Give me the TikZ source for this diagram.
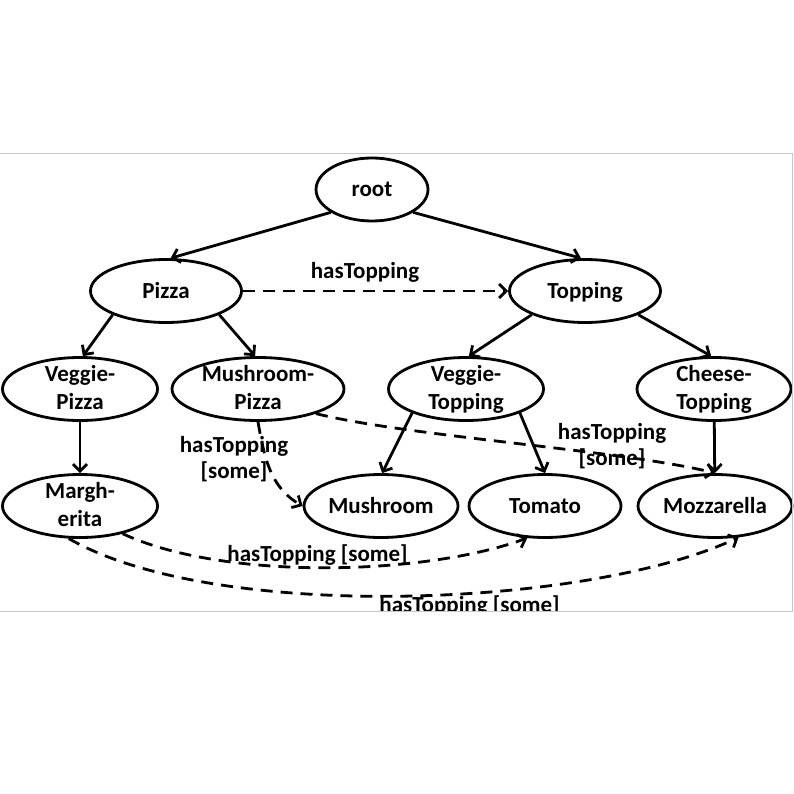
\documentclass[tikz,border=0pt]{standalone}
\usepackage{fontspec}
\setmainfont{Carlito}
\usetikzlibrary{shapes.geometric, arrows.meta}

\begin{document}
\begin{tikzpicture}[x=1pt, y=1pt, line width=2.8pt,
  >={Straight Barb[length=7pt, width=14pt]},
  cls/.style={shape=ellipse, draw, inner xsep=0pt, inner ysep=-4pt, minimum height=63pt, text height=15pt, text depth=0pt, align=center, font=\fontsize{23}{28}\selectfont\bfseries},
  cls2/.style={cls, text height=41pt},
  rel/.style={->, dash pattern=on 12pt off 8pt},
  lbl/.style={inner sep=0pt, align=center, font=\fontsize{23}{26}\selectfont\bfseries}]
\useasboundingbox (0,0) rectangle (794,-794);
\begin{scope}
\clip (-10,-140) rectangle (800,-611);
\node at (372, -189.5) [cls, minimum width=112pt] (root) {root};
\node at (166, -291) [cls, minimum width=151pt] (pizza) {Pizza};
\node at (585, -291) [cls, minimum width=151pt] (topping) {Topping};
\node at (80, -389) [cls2, minimum width=155pt] (vpizza) {Veggie-\\Pizza};
\node at (258, -389) [cls2, minimum width=172pt] (mpizza) {Mushroom-\\Pizza};
\node at (466, -389) [cls2, minimum width=155pt] (vtop) {Veggie-\\Topping};
\node at (714, -389) [cls2, minimum width=154pt] (ctop) {Cheese-\\Topping};
\node at (80, -506) [cls2, minimum width=155pt] (margh) {Margh-\\erita};
\node at (381, -506) [cls, minimum width=154pt] (mushroom) {Mushroom};
\node at (545, -506) [cls, minimum width=152pt] (tomato) {Tomato};
\node at (715, -506) [cls, minimum width=154pt] (mozz) {Mozzarella};
\draw [->] (root.-151) to (pizza.82);
\draw [->] (root.-29) to (topping.97);
\draw [->] (pizza.-156) to (vpizza.85);
\draw [->] (pizza.-24) to (mpizza.95);
\draw [->] (topping.-156) to (vtop.85);
\draw [->] (topping.-24) to (ctop.95);
\draw [->] (vpizza) to (margh);
\draw [->] (ctop) to (mozz);
\draw [->] (vtop.-156) to (mushroom.88);
\draw [->] (vtop.-24) to (tomato.north);
\draw [rel] (pizza) to (topping);
\draw [rel] (mpizza.south) to [out=-80, in=150] (mushroom.west);
\draw [rel] (mpizza.-23) to [out=-14, in=166, looseness=0.6] (mozz.north);
\draw [rel] (margh.-33) to [out=-25, in=-160, looseness=0.7] (tomato.-119);
\draw [rel] (margh.-109) to [out=-30, in=-155, looseness=0.64] (mozz.-53);
\node at (365, -278) [lbl, anchor=base] (has1) {hasTopping};
\node at (234, -459) [lbl] (has2) {hasTopping\\{[some]}};
\node at (612, -446.5) [lbl] (has3) {hasTopping\\{[some]}};
\node at (317.5, -561) [lbl, anchor=base] (has4) {hasTopping [some]};
\node at (469.5, -612) [lbl, anchor=base] (has5) {hasTopping [some]};
\end{scope}
\draw [line width=1pt, color=black!22] (-2,-154) -- (792,-154) -- (792,-611) -- (-2,-611);
\end{tikzpicture}
\end{document}
